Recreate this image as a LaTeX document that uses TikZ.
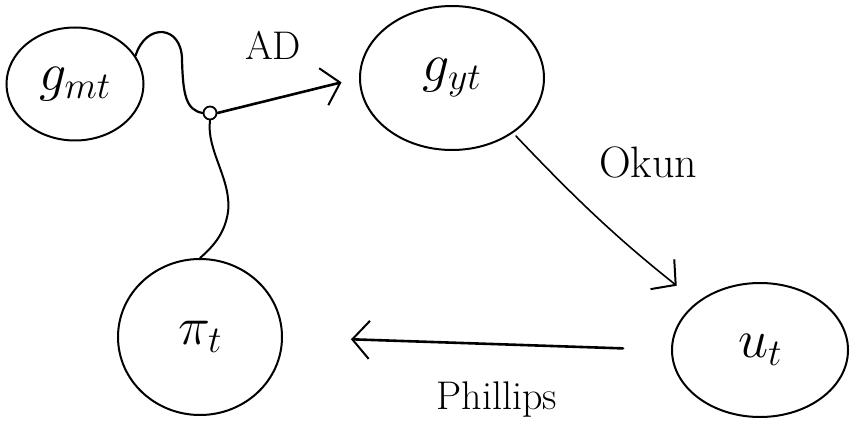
\RequirePackage{fix-cm}
\documentclass[tikz,border=0pt]{standalone}
\usetikzlibrary{shapes.geometric,arrows.meta}
\begin{document}
\begin{tikzpicture}[x=1pt,y=-1pt,
  line/.style={line width=2pt,line cap=round,line join=round},
  state/.style={ellipse,draw,line width=2pt,inner sep=0pt,font=\fontsize{54}{60}\selectfont},
  arr/.style={line,-{Straight Barb[length=17pt,width=38pt,line width=2pt]}},
  lbl/.style={font=\fontsize{40}{46}\selectfont}]
\useasboundingbox (0,0) rectangle (851,438);
\node[state,minimum width=137pt,minimum height=113pt] (gmt) at (75,84) {$g_{mt}$};
\node[state,minimum width=184pt,minimum height=144pt] (gyt) at (452,78) {$g_{yt}$};
\node[state,minimum width=164pt,minimum height=156pt] (pit) at (200,337) {$\pi_t$};
\node[state,minimum width=176pt,minimum height=134pt] (ut) at (760,350) {$u_t$};
\node[circle,draw,line width=1.8pt,minimum size=13pt,inner sep=0pt] (jn) at (210,113) {};
\draw[line,line width=2.2pt] (gmt.25) .. controls (146,22) and (182,25) .. (182,60)
  .. controls (183,95) and (186,110) .. (jn.west);
\draw[line] (jn.south) .. controls (206,150) and (232,180) .. (228,212)
  .. controls (225,232) and (215,245) .. (pit.north);
\draw[arr,line width=2.6pt,shorten >=18pt] (jn.east) -- (gyt.west);
\draw[arr,line width=1.6pt,shorten <=4pt,shorten >=26pt] (gyt.-42) to[bend right=4] (ut.north west);
\draw[arr,line width=2.6pt,shorten <=48pt,shorten >=68pt] (ut.west) -- (pit.east);
\node[lbl] (ad) at (273,45) {AD};
\node[lbl,font=\fontsize{44}{50}\selectfont] (ok) at (648,162) {Okun};
\node[lbl] (ph) at (497,400) {Phillips};
\end{tikzpicture}
\end{document}
